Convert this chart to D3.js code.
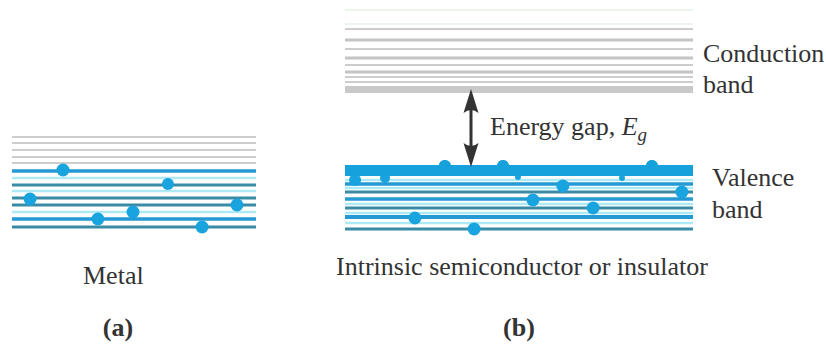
<!DOCTYPE html>
<html>
<head>
<meta charset="utf-8">
<script src="https://cdn.jsdelivr.net/npm/d3@7"></script>
<style>
  body { margin: 0; background: #ffffff; }
  svg { display: block; }
  svg text { font-family: 'Liberation Serif', 'DejaVu Serif', 'Nimbus Roman', 'FreeSerif', 'Tinos', serif; }
</style>
</head>
<body>
<div id="chart"></div>
<script>
// energy levels (arbitrary units, 0 = bottom of the valence band in (b))
// kind: g = gray empty level, b = blue filled, t = teal filled, l = light filled
var metalLevels = [
  {e: 98, kind: 'g'}, {e: 92, kind: 'g'}, {e: 85, kind: 'g'}, {e: 78, kind: 'g'}, {e: 72, kind: 'g'},
  {e: 64, kind: 'b'}, {e: 57, kind: 'l'}, {e: 50, kind: 't'}, {e: 44, kind: 'l'},
  {e: 37, kind: 't'}, {e: 30, kind: 't'}, {e: 23, kind: 'l'}, {e: 16, kind: 'b'}, {e: 8, kind: 't'}
];
var conductionLevels = [
  {e: 225, kind: 'f'}, {e: 211, kind: 'f'}, {e: 206, kind: 'g'}, {e: 195, kind: 'G'},
  {e: 186, kind: 'g'}, {e: 177, kind: 'G'}, {e: 170, kind: 'g'}, {e: 163, kind: 'G'},
  {e: 158, kind: 'g'}, {e: 153, kind: 'g'}
];
var conductionEdge = [142, 149];   // thick bottom of conduction band
var valenceEdge = [59, 70];        // thick top of valence band
var valenceLevels = [
  {e: 55, kind: 'l'}, {e: 51, kind: 'b'}, {e: 47, kind: 'l'}, {e: 43, kind: 't'},
  {e: 36, kind: 'b'}, {e: 31, kind: 'l'}, {e: 27, kind: 't'}, {e: 22, kind: 'l'},
  {e: 18, kind: 'B'}, {e: 12, kind: 'l'}, {e: 6, kind: 't'}
];

// electrons: position along the level (percent of band width), energy, radius
var metalElectrons = [
  {p: 20.9, e: 65, r: 6.5}, {p: 63.9, e: 51, r: 6}, {p: 7.4, e: 36, r: 6.5},
  {p: 35.2, e: 16, r: 6.5}, {p: 49.6, e: 23, r: 6.5}, {p: 77.9, e: 8, r: 6.5},
  {p: 92.2, e: 30, r: 6.5}
];
var valenceElectrons = [
  {p: 28.7, e: 69, r: 6}, {p: 45.4, e: 69, r: 6}, {p: 88.2, e: 69, r: 6},
  {p: 2.9, e: 55, r: 6}, {p: 11.5, e: 57, r: 5}, {p: 49.7, e: 58, r: 3},
  {p: 79.6, e: 57, r: 3}, {p: 62.6, e: 49, r: 6.5}, {p: 96.8, e: 43, r: 6.5},
  {p: 54.0, e: 35, r: 6.5}, {p: 71.3, e: 27, r: 6.5}, {p: 20.1, e: 17, r: 6.5},
  {p: 37.1, e: 6, r: 6.5}
];

var levelStyle = {
  f: {color: '#e6f2e6', width: 1.5},
  g: {color: '#cdcdcd', width: 2},
  G: {color: '#c4c4c4', width: 3},
  b: {color: '#2499d4', width: 3.5},
  B: {color: '#2499d4', width: 4},
  t: {color: '#3a8ca6', width: 3},
  l: {color: '#aeeaf6', width: 2.5}
};
var electronColor = '#19a3df';
var edgeColor = {conduction: '#c9c9c9', valence: '#16a1dc'};

var width = 826, height = 345;

var svg = d3.select('#chart').append('svg')
  .attr('width', width)
  .attr('height', height);

var y = d3.scaleLinear().domain([0, 230]).range([235, 5]);
var xMetal = d3.scaleLinear().domain([0, 100]).range([12, 256]);
var xSemi = d3.scaleLinear().domain([0, 100]).range([345, 693]);

function drawLevels(parent, levels, x) {
  parent.append('g').selectAll('line')
    .data(levels)
    .enter().append('line')
    .attr('x1', x(0))
    .attr('x2', x(100))
    .attr('y1', function (d) { return y(d.e); })
    .attr('y2', function (d) { return y(d.e); })
    .style('stroke', function (d) { return levelStyle[d.kind].color; })
    .style('stroke-width', function (d) { return levelStyle[d.kind].width; });
}

function drawEdge(parent, edge, x, color) {
  parent.append('rect')
    .attr('x', x(0))
    .attr('width', x(100) - x(0))
    .attr('y', y(edge[1]))
    .attr('height', y(edge[0]) - y(edge[1]))
    .style('fill', color);
}

function drawElectrons(parent, electrons, x, color) {
  parent.append('g').selectAll('circle')
    .data(electrons)
    .enter().append('circle')
    .attr('cx', function (d) { return x(d.p); })
    .attr('cy', function (d) { return y(d.e); })
    .attr('r', function (d) { return d.r; })
    .style('fill', color);
}

// (a) metal
var metal = svg.append('g');
drawLevels(metal, metalLevels, xMetal);
drawElectrons(metal, metalElectrons, xMetal, electronColor);

// (b) semiconductor / insulator
var semi = svg.append('g');
drawLevels(semi, conductionLevels, xSemi);
drawEdge(semi, conductionEdge, xSemi, edgeColor.conduction);
drawLevels(semi, valenceLevels, xSemi);
drawElectrons(semi, valenceElectrons, xSemi, electronColor);
drawEdge(semi, valenceEdge, xSemi, edgeColor.valence);
// electrons sitting on top of the valence edge peek out above it
drawElectrons(semi, valenceElectrons.filter(function (d) { return d.e >= 69; }), xSemi, edgeColor.valence);

// energy gap double arrow
var arrowX = 471;
var gapTop = y(conductionEdge[0]) - 4;
var gapBottom = y(valenceEdge[1]) + 2;
var headLen = 24, headHalf = 7.5;

semi.append('line')
  .attr('x1', arrowX).attr('x2', arrowX)
  .attr('y1', gapTop + 10).attr('y2', gapBottom - 10)
  .style('stroke', '#333333')
  .style('stroke-width', 3);

semi.append('path')
  .attr('d', 'M' + arrowX + ',' + gapTop +
    ' L' + (arrowX + headHalf) + ',' + (gapTop + headLen) +
    ' Q' + arrowX + ',' + (gapTop + headLen - 6) + ' ' + (arrowX - headHalf) + ',' + (gapTop + headLen) + ' Z')
  .style('fill', '#333333');

semi.append('path')
  .attr('d', 'M' + arrowX + ',' + gapBottom +
    ' L' + (arrowX + headHalf) + ',' + (gapBottom - headLen) +
    ' Q' + arrowX + ',' + (gapBottom - headLen + 6) + ' ' + (arrowX - headHalf) + ',' + (gapBottom - headLen) + ' Z')
  .style('fill', '#333333');

// labels
var fontSize = 26;

function label(text, x, yPos, opts) {
  opts = opts || {};
  var t = svg.append('text')
    .attr('x', x)
    .attr('y', yPos)
    .style('fill', '#333333')
    .style('font-size', (opts.size || fontSize) + 'px')
    .text(text);
  if (opts.anchor) t.attr('text-anchor', opts.anchor);
  if (opts.bold) t.style('font-weight', 'bold');
  return t;
}

label('Conduction', 703, 62);
label('band', 703, 93);
label('Valence', 712, 186);
label('band', 712, 218);

var gap = label('Energy gap, ', 490, 135);
gap.append('tspan').style('font-style', 'italic').text('E');
gap.append('tspan').style('font-style', 'italic').style('font-size', '19px').attr('dy', 6).text('g');

label('Metal', 83, 284);
label('Intrinsic semiconductor or insulator', 336, 275);
label('(a)', 118, 336, {anchor: 'middle', bold: true});
label('(b)', 519, 336, {anchor: 'middle', bold: true});
</script>
</body>
</html>
